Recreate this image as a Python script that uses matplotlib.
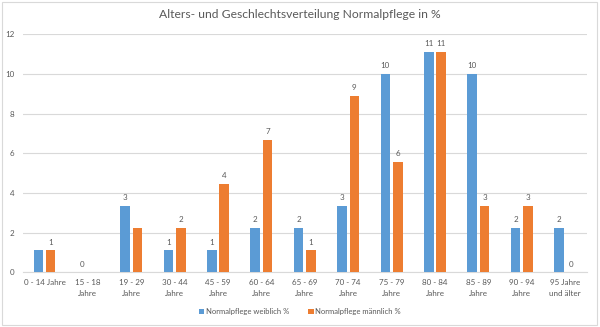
import numpy as np
import matplotlib.pyplot as plt
from matplotlib.patches import Rectangle

# Anteil je Altersgruppe in % (Basis: 90 Patienten)
age_groups = ["0 - 14 Jahre", "15 - 18\nJahre", "19 - 29\nJahre", "30 - 44\nJahre",
              "45 - 59\nJahre", "60 - 64\nJahre", "65 - 69\nJahre", "70 - 74\nJahre",
              "75 - 79\nJahre", "80 - 84\nJahre", "85 - 89\nJahre", "90 - 94\nJahre",
              "95 Jahre\nund älter"]
weiblich = [1.11, 0.0, 3.33, 1.11, 1.11, 2.22, 2.22, 3.33, 10.0, 11.11, 10.0, 2.22, 2.22]
maennlich = [1.11, np.nan, 2.22, 2.22, 4.44, 6.67, 1.11, 8.89, 5.56, 11.11, 3.33, 3.33, 0.0]
series_names = ["Normalpflege weiblich %", "Normalpflege männlich %"]
yticks = [0, 2, 4, 6, 8, 10, 12]
# Beschriftungen, die im Diagramm ausgeblendet sind (Index je Reihe)
hidden_w = {0}
hidden_m = {2}

BLUE = "#5B9BD5"
ORANGE = "#ED7D31"
TEXT = "#595959"
GRID = "#D9D9D9"

plt.rcParams["font.family"] = ["Lato", "DejaVu Sans"]

fig = plt.figure(figsize=(6.0, 3.27), dpi=100)
ax = fig.add_axes([0.038, 0.167, 0.940, 0.728])

x = np.arange(len(age_groups))
w = 0.22
off = 0.143
b1 = ax.bar(x - off, weiblich, w, color=BLUE, label=series_names[0], zorder=3)
b2 = ax.bar(x + off, maennlich, w, color=ORANGE, label=series_names[1], zorder=3)

# Datenbeschriftungen (gerundet)
for bars, vals, hidden in ((b1, weiblich, hidden_w), (b2, maennlich, hidden_m)):
    for i, (rect, v) in enumerate(zip(bars, vals)):
        if np.isnan(v) or i in hidden:
            continue
        ax.annotate(f"{v:.0f}", (rect.get_x() + rect.get_width() / 2, v),
                    xytext=(0, 3.5), textcoords="offset points",
                    ha="center", va="bottom", fontsize=5.8, color=TEXT)

ax.set_xlim(-0.5, len(age_groups) - 0.5)
ax.set_ylim(0, 12)
ax.set_yticks(yticks)
ax.yaxis.grid(True, color=GRID, linewidth=0.8, zorder=0)
ax.set_xticks(x)
ax.set_xticklabels(age_groups, fontsize=5.8, color=TEXT, linespacing=1.55)
ax.tick_params(axis="y", labelsize=5.8, labelcolor=TEXT, length=0, pad=6)
ax.tick_params(axis="x", length=0, pad=5)
for side in ("top", "right", "left"):
    ax.spines[side].set_visible(False)
ax.spines["bottom"].set_color(GRID)

fig.text(0.5, 0.955, "Alters- und Geschlechtsverteilung Normalpflege in %",
         ha="center", va="center", fontsize=8.7, color=TEXT)

leg = fig.legend(handles=[b1, b2], loc="center", bbox_to_anchor=(0.5, 0.046),
                 ncol=2, frameon=False, fontsize=5.5, handlelength=0.7,
                 handleheight=0.7, handletextpad=0.2, columnspacing=2.5)
for t in leg.get_texts():
    t.set_color(TEXT)

# dezenter Rahmen um das Diagramm
fig.patches.append(Rectangle((0.003, 0.006), 0.992, 0.988, transform=fig.transFigure,
                             fill=False, edgecolor=GRID, linewidth=0.8))

fig.savefig("out.png", dpi=100, facecolor="white")
